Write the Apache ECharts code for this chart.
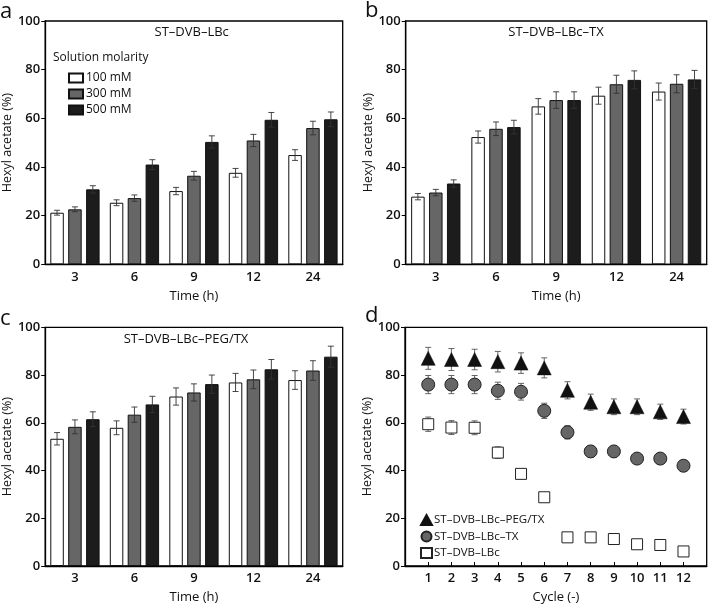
<!DOCTYPE html>
<html><head><meta charset="utf-8">
<script src="https://cdn.jsdelivr.net/npm/echarts@6/dist/echarts.min.js"></script>
<style>html,body{margin:0;padding:0;background:#fff}#c{width:709px;height:605px}</style>
</head><body><div id="c"></div>
<script>
// ---- data ----
var timeCats = ['3', '6', '9', '12', '24'];
var molarities = ['100 mM', '300 mM', '500 mM'];
// panel a: ST–DVB–LBc
var a100 = [21.2, 25.3, 30.1, 37.6, 44.9];
var a300 = [22.6, 27.2, 36.4, 50.9, 56.0];
var a500 = [30.8, 41.0, 50.3, 59.4, 59.6];
var a100Err = [1.0, 1.2, 1.5, 1.8, 2.2];
var a300Err = [1.0, 1.3, 1.8, 2.5, 2.8];
var a500Err = [1.5, 2.0, 2.5, 3.0, 3.0];
// panel b: ST–DVB–LBc–TX
var b100 = [27.8, 52.3, 64.9, 69.3, 71.0];
var b300 = [29.5, 55.7, 67.5, 74.0, 74.2];
var b500 = [33.2, 56.4, 67.5, 75.8, 76.0];
var b100Err = [1.3, 2.5, 3.2, 3.5, 3.5];
var b300Err = [1.3, 2.8, 3.4, 3.7, 3.7];
var b500Err = [1.5, 2.8, 3.4, 3.7, 3.7];
// panel c: ST–DVB–LBc–PEG/TX
var c100 = [53.3, 57.9, 71.0, 76.9, 77.9];
var c300 = [58.3, 63.4, 72.7, 78.2, 81.9];
var c500 = [61.5, 67.7, 76.2, 82.4, 87.7];
var c100Err = [2.6, 2.9, 3.6, 3.8, 3.9];
var c300Err = [2.9, 3.2, 3.6, 3.9, 4.1];
var c500Err = [3.1, 3.4, 3.8, 4.1, 4.4];
// panel d: reuse cycles
var cycles = [1, 2, 3, 4, 5, 6, 7, 8, 9, 10, 11, 12];
var dPEG = [87.0, 86.5, 86.5, 85.6, 85.0, 83.0, 73.6, 68.6, 66.7, 66.7, 64.6, 62.6];
var dTX = [76.0, 76.0, 76.0, 73.4, 73.0, 65.0, 56.0, 48.0, 48.0, 45.0, 45.0, 42.0];
var dLBc = [59.4, 58.0, 57.9, 47.5, 38.6, 28.8, 12.0, 12.0, 11.3, 9.1, 8.8, 6.1];
var dPEGErr = [4.6, 4.6, 4.3, 4.3, 4.3, 4.2, 3.6, 3.4, 3.3, 3.3, 3.2, 3.1];
var dTXErr = [3.8, 3.8, 3.8, 3.6, 3.5, 3.2, 2.8, 2.4, 2.4, 2.2, 2.2, 2.1];
var dLBcErr = [3.0, 2.9, 2.9, 2.4, 1.9, 1.4, 0.6, 0.6, 0.6, 0.5, 0.4, 0.3];
var dNames = ['ST–DVB–LBc–PEG/TX', 'ST–DVB–LBc–TX', 'ST–DVB–LBc'];
var yTicks = [0, 20, 40, 60, 80, 100];

// ---- style ----
var FONT = 'Open Sans';
var barColors = ['#ffffff', '#666666', '#1c1c1c'];
var BW = 13.5, GAP = 4.4;

var grids = [
  {left: 40.7, top: 21, width: 302, height: 243.3},
  {left: 405.7, top: 21, width: 301, height: 243.3},
  {left: 40.7, top: 327.3, width: 302, height: 244.4},
  {left: 405, top: 327.3, width: 301.7, height: 244.4}
].map(function (g) {
  return Object.assign({show: true, borderColor: '#000', borderWidth: 1.3, backgroundColor: 'transparent', containLabel: false}, g);
});

var tickLabel = {fontFamily: FONT, fontSize: 13, fontWeight: 600, color: '#111'};

function yAxis(i) {
  return {
    type: 'value', gridIndex: i, min: 0, max: 100, interval: 20,
    name: 'Hexyl acetate (%)', nameLocation: 'middle', nameGap: 26,
    nameTextStyle: {fontFamily: FONT, fontSize: 12.5, color: '#111'},
    axisLine: {show: true, lineStyle: {color: '#000', width: 1.3}},
    axisTick: {show: true, inside: false, length: 4, lineStyle: {color: '#000'}},
    axisLabel: Object.assign({margin: 5,
      formatter: function (v) { return yTicks.indexOf(v) >= 0 ? String(v) : ''; }}, tickLabel),
    splitLine: {show: false}
  };
}
function xCat(i) {
  return {
    type: 'category', gridIndex: i, data: timeCats,
    name: 'Time (h)', nameLocation: 'middle', nameGap: 25,
    nameTextStyle: {fontFamily: FONT, fontSize: 13, color: '#111'},
    axisLine: {show: true, lineStyle: {color: '#000', width: 1.3}},
    axisTick: {show: false},
    axisLabel: Object.assign({margin: 6}, tickLabel),
    splitLine: {show: false}
  };
}

var series = [];
function addBars(gi, vals, errs, prefix) {
  vals.forEach(function (arr, k) {
    series.push({
      type: 'bar', name: prefix + molarities[k], xAxisIndex: gi, yAxisIndex: gi,
      data: arr, barWidth: BW, barGap: (GAP / BW * 100) + '%',
      itemStyle: {color: barColors[k], borderColor: '#111', borderWidth: 1},
      silent: true, animation: false
    });
  });
  vals.forEach(function (arr, k) {
    var d = arr.map(function (v, j) { return [j, v, errs[k][j]]; });
    series.push({
      type: 'custom', xAxisIndex: gi, yAxisIndex: gi, data: d, z: 5, silent: true, animation: false,
      encode: {x: 0, y: 1},
      renderItem: function (params, api) {
        var off = (k - 1) * (BW + GAP);
        var p1 = api.coord([api.value(0), api.value(1) + api.value(2)]);
        var p0 = api.coord([api.value(0), api.value(1) - api.value(2)]);
        var x = p1[0] + off, cw = 3;
        var st = {stroke: '#333', lineWidth: 0.9};
        return {type: 'group', children: [
          {type: 'line', shape: {x1: x, y1: p1[1], x2: x, y2: p0[1]}, style: st},
          {type: 'line', shape: {x1: x - cw, y1: p1[1], x2: x + cw, y2: p1[1]}, style: st},
          {type: 'line', shape: {x1: x - cw, y1: p0[1], x2: x + cw, y2: p0[1]}, style: st}
        ]};
      }
    });
  });
}
addBars(0, [a100, a300, a500], [a100Err, a300Err, a500Err], '');
addBars(1, [b100, b300, b500], [b100Err, b300Err, b500Err], 'b ');
addBars(2, [c100, c300, c500], [c100Err, c300Err, c500Err], 'c ');

// panel d
var dVals = [dPEG, dTX, dLBc], dErrs = [dPEGErr, dTXErr, dLBcErr];
var dSym = ['triangle', 'circle', 'rect'];
var dSize = [14, 13, 11];
var dStyle = [
  {color: '#111', borderColor: '#111', borderWidth: 0.5, opacity: 1},
  {color: '#666', borderColor: '#222', borderWidth: 1, opacity: 1},
  {color: '#fff', borderColor: '#222', borderWidth: 1, opacity: 1}
];
dVals.forEach(function (arr, k) {
  var d = cycles.map(function (c, j) { return [c, arr[j], dErrs[k][j]]; });
  series.push({
    type: 'custom', xAxisIndex: 3, yAxisIndex: 3, data: d, z: 1, silent: true, animation: false,
    encode: {x: 0, y: 1},
    renderItem: function (params, api) {
      var p1 = api.coord([api.value(0), api.value(1) + api.value(2)]);
      var p0 = api.coord([api.value(0), api.value(1) - api.value(2)]);
      var x = p1[0], cw = 3;
      var st = {stroke: '#555', lineWidth: 0.9};
      return {type: 'group', children: [
        {type: 'line', shape: {x1: x, y1: p1[1], x2: x, y2: p0[1]}, style: st},
        {type: 'line', shape: {x1: x - cw, y1: p1[1], x2: x + cw, y2: p1[1]}, style: st},
        {type: 'line', shape: {x1: x - cw, y1: p0[1], x2: x + cw, y2: p0[1]}, style: st}
      ]};
    }
  });
  series.push({
    type: 'scatter', name: dNames[k], xAxisIndex: 3, yAxisIndex: 3, z: 3,
    data: cycles.map(function (c, j) { return [c, arr[j]]; }),
    symbol: dSym[k], symbolSize: dSize[k], itemStyle: dStyle[k], silent: true, animation: false
  });
});

function txt(x, y, s, size, align) {
  return {type: 'text', x: x, y: y, style: {text: s, font: size + 'px "Open Sans"', fill: '#111',
    align: align || 'left', verticalAlign: 'middle'}};
}

var option = {
  animation: false,
  backgroundColor: '#fff',
  grid: grids,
  xAxis: [xCat(0), xCat(1), xCat(2), {
    type: 'value', gridIndex: 3, min: 0, max: 13, interval: 1,
    name: 'Cycle (-)', nameLocation: 'middle', nameGap: 25,
    nameTextStyle: {fontFamily: FONT, fontSize: 13, color: '#111'},
    axisLine: {show: true, lineStyle: {color: '#000', width: 1.3}},
    axisTick: {show: true, inside: true, length: 4, lineStyle: {color: '#000'},
      interval: function (idx, v) { return v >= 1 && v <= 12; }},
    axisLabel: Object.assign({margin: 6, showMinLabel: false, showMaxLabel: false,
      formatter: function (v) { return (v >= 1 && v <= 12) ? String(v) : ''; }}, tickLabel),
    splitLine: {show: false}
  }],
  yAxis: [yAxis(0), yAxis(1), yAxis(2), yAxis(3)],
  legend: [{
    data: molarities, orient: 'vertical', left: 63, top: 67, itemWidth: 14, itemHeight: 9, itemGap: 4,
    icon: 'rect', selectedMode: false,
    textStyle: {fontFamily: FONT, fontSize: 12, color: '#111', padding: [0, 0, 0, -2]}
  }, {
    data: dNames, orient: 'vertical', left: 415, top: 509, itemWidth: 11, itemHeight: 10, itemGap: 4.5,
    selectedMode: false,
    textStyle: {fontFamily: FONT, fontSize: 11.5, color: '#111', padding: [0, 0, 0, -3]}
  }],
  graphic: [
    txt(53, 58, 'Solution molarity', 12),
    txt(191.7, 32, 'ST–DVB–LBc', 13, 'center'),
    txt(556, 32, 'ST–DVB–LBc–TX', 13, 'center'),
    txt(186, 339, 'ST–DVB–LBc–PEG/TX', 13, 'center'),
    txt(0, 11.5, 'a', 22),
    txt(365, 10.5, 'b', 22),
    txt(0, 318.5, 'c', 22),
    txt(365, 315.5, 'd', 22)
  ],
  series: series
};
var chart = echarts.init(document.getElementById('c'), null, {renderer: 'canvas'});
chart.setOption(option);
</script></body></html>
